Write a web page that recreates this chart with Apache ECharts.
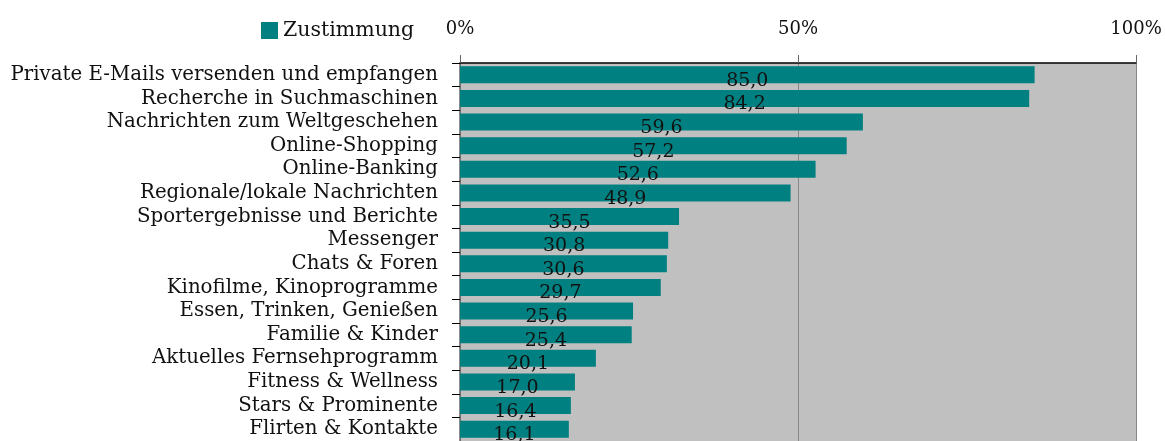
<!DOCTYPE html>
<html>
<head>
<meta charset="utf-8">
<script src="https://cdn.jsdelivr.net/npm/echarts@6/dist/echarts.min.js"></script>
<style>
  html, body { margin: 0; padding: 0; background: #fff; }
  #chart { width: 1165px; height: 441px; }
</style>
</head>
<body>
<div id="chart"></div>
<script>
// Kategorien (von oben nach unten)
var categories = [
  'Private E-Mails versenden und empfangen',
  'Recherche in Suchmaschinen',
  'Nachrichten zum Weltgeschehen',
  'Online-Shopping',
  'Online-Banking',
  'Regionale/lokale Nachrichten',
  'Sportergebnisse und Berichte',
  'Messenger',
  'Chats & Foren',
  'Kinofilme, Kinoprogramme',
  'Essen, Trinken, Genießen',
  'Familie & Kinder',
  'Aktuelles Fernsehprogramm',
  'Fitness & Wellness',
  'Stars & Prominente',
  'Flirten & Kontakte'
]
// Balkenlaengen (Sport-Balken ist kuerzer als seine Beschriftung)
var zustimmung = [85.0, 84.2, 59.6, 57.2, 52.6, 48.9, 32.4, 30.8, 30.6, 29.7, 25.6, 25.4, 20.1, 17.0, 16.4, 16.1]
// Beschriftungen an den Balken
var valueLabels = ['85,0', '84,2', '59,6', '57,2', '52,6', '48,9', '35,5', '30,8', '30,6', '29,7', '25,6', '25,4', '20,1', '17,0', '16,4', '16,1']
var seriesName = 'Zustimmung'

var fontFamily = '"DejaVu Serif", "Liberation Serif", serif'
var teal = '#008080'

var chart = echarts.init(document.getElementById('chart'))

chart.setOption({
  animation: false,
  textStyle: { fontFamily: fontFamily, color: '#111' },
  legend: {
    left: 256,
    top: 15,
    icon: 'rect',
    itemWidth: 17,
    itemHeight: 17,
    itemGap: 10,
    textStyle: { fontFamily: fontFamily, fontSize: 20.5, color: '#111' },
    data: [seriesName]
  },
  grid: {
    left: 460,
    right: 29,
    top: 63,
    height: 381,
    show: true,
    backgroundColor: '#c0c0c0',
    borderWidth: 0
  },
  xAxis: {
    type: 'value',
    position: 'top',
    min: 0,
    max: 100,
    interval: 50,
    axisLine: { show: true, lineStyle: { color: '#000', width: 1.5 } },
    axisTick: { show: true, length: 8, lineStyle: { color: '#666' } },
    axisLabel: {
      formatter: '{value}%',
      fontFamily: fontFamily,
      fontSize: 18,
      color: '#111',
      margin: 25
    },
    splitLine: { show: true, lineStyle: { color: '#888', width: 1 } }
  },
  yAxis: {
    type: 'category',
    inverse: true,
    data: categories,
    axisLine: { show: true, lineStyle: { color: '#666', width: 1.5 } },
    axisTick: { show: true, interval: 0, length: 8, lineStyle: { color: '#000' } },
    axisLabel: {
      interval: 0,
      fontFamily: fontFamily,
      fontSize: 19.8,
      color: '#111',
      margin: 22,
      padding: [5, 0, 0, 0]
    }
  },
  series: [{
    name: seriesName,
    type: 'bar',
    barWidth: 17,
    itemStyle: { color: teal },
    label: {
      show: true,
      position: 'inside',
      offset: [0, 6],
      fontFamily: fontFamily,
      fontSize: 19,
      color: '#111',
      formatter: function (p) { return valueLabels[p.dataIndex] }
    },
    data: zustimmung
  }]
})
</script>
</body>
</html>
